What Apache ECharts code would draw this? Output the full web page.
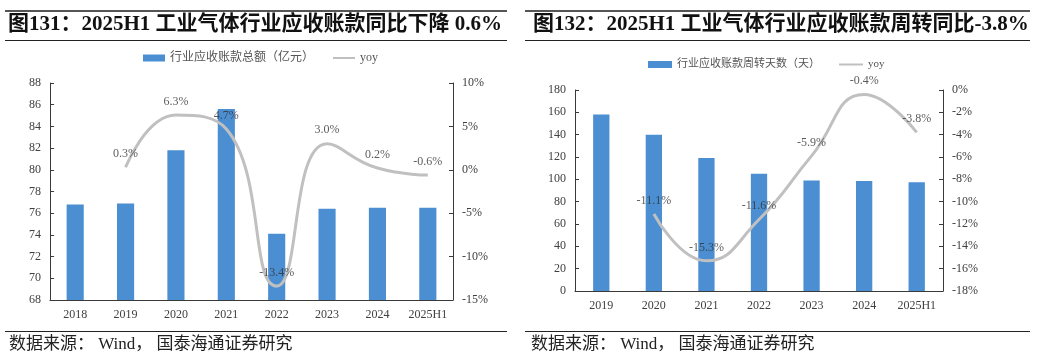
<!DOCTYPE html>
<html><head><meta charset="utf-8">
<script src="https://cdn.jsdelivr.net/npm/echarts@6/dist/echarts.min.js"></script>
<style>html,body{margin:0;padding:0;background:#fff}#c{width:1037px;height:355px}</style>
</head><body><div id="c"></div>
<script>
const cats1 = ['2018','2019','2020','2021','2022','2023','2024','2025H1'];
const receivables1 = [76.8, 76.9, 81.8, 85.6, 74.1, 76.4, 76.5, 76.5];
const yoy1 = [null, 0.3, 6.3, 4.7, -13.4, 3.0, 0.2, -0.6];
const cats2 = ['2019','2020','2021','2022','2023','2024','2025H1'];
const days2 = [158, 140, 119, 105, 99, 98.5, 97.5];
const yoy2 = [null, -11.1, -15.3, -11.6, -5.9, -0.4, -3.8];
const title1 = '图131：2025H1 工业气体行业应收账款同比下降 0.6%';
const title2 = '图132：2025H1 工业气体行业应收账款周转同比-3.8%';
const source = '数据来源： Wind， 国泰海通证券研究';
const name1 = '行业应收账款总额（亿元）';
const name2 = '行业应收账款周转天数（天）';

const SERIF = '"Liberation Serif","Times New Roman","Noto Sans CJK SC",serif';
const BLUE = '#4b8fd2';
const GRAY = '#c0c0c0';
const AX = '#3a3a3a';
const lab = {fontFamily: SERIF, fontSize: 12, color: '#404040'};

function catAxis(idx, data){
  return {type:'category', gridIndex: idx, data, boundaryGap:true,
    axisLine:{onZero:false, lineStyle:{color:AX}}, axisTick:{inside:true, length:4, lineStyle:{color:AX}},
    axisLabel:Object.assign({margin:9}, lab)};
}
function valAxis(idx, min, max, interval, pos, pct){
  return {type:'value', gridIndex: idx, min, max, interval, position: pos,
    splitLine:{show:false},
    axisLine:{show:true, onZero:false, lineStyle:{color:AX}},
    axisTick:{show:true, inside:true, length:4, lineStyle:{color:AX}},
    axisLabel:Object.assign({margin:9, formatter: pct ? '{value}%' : '{value}'}, lab)};
}
const pctLabel = {show:true, position:'top', distance:7, fontFamily:SERIF, fontSize:12, color:'#333',
  formatter: p => Number(p.value[1] !== undefined ? p.value[1] : p.value).toFixed(1) + '%'};

function labelSeries(xi, yi, vals){
  return {type:'scatter', xAxisIndex:xi, yAxisIndex:yi, data:vals, symbol:'circle', symbolSize:1,
    itemStyle:{color:'rgba(0,0,0,0)'}, z:6, silent:true, label:pctLabel};
}

const chart = echarts.init(document.getElementById('c'), null, {renderer:'canvas'});
chart.setOption({
  animation:false,
  backgroundColor:'#fff',
  title:[
    {text:title1, left:8, top:14, padding:0, textStyle:{fontFamily:SERIF, fontWeight:'bold', fontSize:21, color:'#111'}},
    {text:title2, left:533, top:14, padding:0, textStyle:{fontFamily:SERIF, fontWeight:'bold', fontSize:21, color:'#111'}},
    {text:source, left:9, top:336, padding:0, textStyle:{fontFamily:SERIF, fontWeight:'normal', fontSize:17, color:'#222'}},
    {text:source, left:531, top:336, padding:0, textStyle:{fontFamily:SERIF, fontWeight:'normal', fontSize:17, color:'#222'}}
  ],
  graphic:[
    {type:'rect', shape:{x:5, y:10, width:502, height:2}, style:{fill:'#555'}},
    {type:'rect', shape:{x:5, y:40, width:502, height:1}, style:{fill:'#222'}},
    {type:'rect', shape:{x:5, y:331, width:502, height:1}, style:{fill:'#222'}},
    {type:'rect', shape:{x:525, y:10, width:505, height:2}, style:{fill:'#555'}},
    {type:'rect', shape:{x:525, y:40, width:505, height:1}, style:{fill:'#222'}},
    {type:'rect', shape:{x:525, y:331, width:505, height:1}, style:{fill:'#222'}}
  ],
  legend:[
    {left:143, top:52, itemWidth:22, itemHeight:7, itemGap:18, padding:0,
     textStyle:{fontFamily:SERIF, fontSize:12, color:'#555'},
     data:[{name:name1, icon:'rect'}, {name:'yoy', itemStyle:{opacity:0}}]},
    {left:648, top:59, itemWidth:24, itemHeight:7, itemGap:18, padding:0,
     textStyle:{fontFamily:SERIF, fontSize:11, color:'#555'},
     data:[{name:name2, icon:'rect'}, {name:'yoy ', itemStyle:{opacity:0}}]}
  ],
  grid:[
    {left:50, right:584, top:83, bottom:55},
    {left:575, right:94, top:90, bottom:64}
  ],
  xAxis:[catAxis(0, cats1), catAxis(1, cats2)],
  yAxis:[
    valAxis(0, 68, 88, 2, 'left', false),
    valAxis(0, -15, 10, 5, 'right', true),
    valAxis(1, 0, 180, 20, 'left', false),
    valAxis(1, -18, 0, 2, 'right', true)
  ],
  series:[
    {name:name1, type:'bar', xAxisIndex:0, yAxisIndex:0, data:receivables1, barWidth:'34%', itemStyle:{color:BLUE}},
    {name:'yoy', type:'line', xAxisIndex:0, yAxisIndex:1, data:yoy1, smooth:0.5, symbol:'none', z:5,
     lineStyle:{color:GRAY, width:3}, itemStyle:{color:GRAY}},
    labelSeries(0, 1, yoy1),
    {name:name2, type:'bar', xAxisIndex:1, yAxisIndex:2, data:days2, barWidth:'31%', itemStyle:{color:BLUE}},
    {name:'yoy ', type:'line', xAxisIndex:1, yAxisIndex:3, data:yoy2, smooth:0.5, symbol:'none', z:5,
     lineStyle:{color:GRAY, width:3}, itemStyle:{color:GRAY}},
    labelSeries(1, 3, yoy2)
  ]
});
</script></body></html>
